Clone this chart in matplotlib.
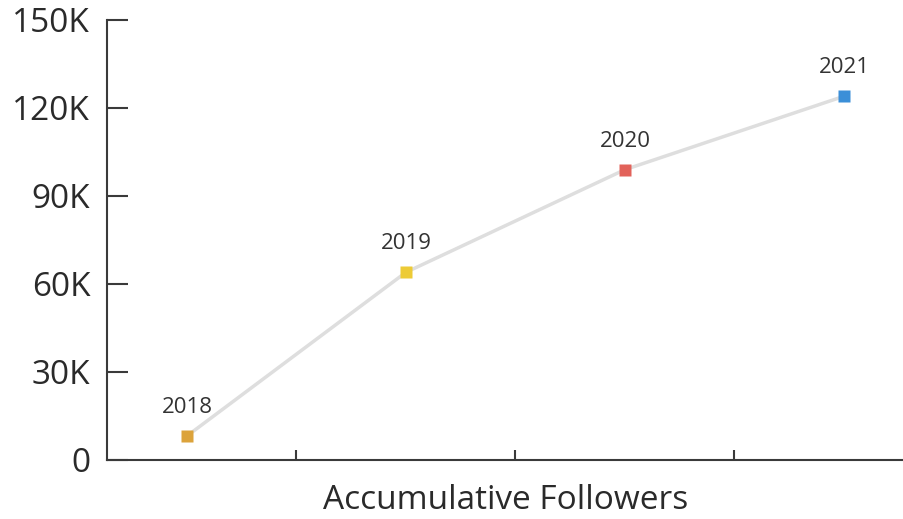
import matplotlib
matplotlib.use("Agg")
import matplotlib.pyplot as plt
from matplotlib.ticker import FuncFormatter

years = ["2018", "2019", "2020", "2021"]
followers = [8200, 64000, 99000, 124000]
colors = ["#DCA33B", "#EDCB36", "#E2625A", "#3B8FD8"]
y_ticks = [0, 30000, 60000, 90000, 120000, 150000]
x_label = "Accumulative Followers"

plt.rcParams["font.family"] = ["Open Sans", "DejaVu Sans"]

fig = plt.figure(figsize=(9.04, 5.19), dpi=100)
ax = fig.add_axes([107 / 904, 59 / 519, 1 - 107 / 904, 440 / 519])

xs = list(range(len(years)))
ax.plot(xs, followers, color="#DEDEDE", lw=2.5, zorder=1)
for x, v, c, yr in zip(xs, followers, colors, years):
    ax.plot([x], [v], marker="s", ms=8.5, color=c, mec="none", zorder=3)
    ax.annotate(yr, (x, v), xytext=(0, 13), textcoords="offset points",
                ha="center", va="bottom", fontsize=16, color="#333333")

ax.set_xlim(-80 / 219, (904 - 187) / 219)
ax.set_ylim(0, 150000)
ax.set_yticks(y_ticks)
ax.yaxis.set_major_formatter(FuncFormatter(lambda v, p: "0" if v == 0 else f"{int(v/1000)}K"))
ax.set_xticks([0.5, 1.5, 2.5])
ax.set_xticklabels([])

for s in ["top", "right"]:
    ax.spines[s].set_visible(False)
for s in ["left", "bottom"]:
    ax.spines[s].set_color("#3a3a3a")
    ax.spines[s].set_linewidth(1.5)

ax.tick_params(axis="y", direction="in", length=15, width=1.5, color="#3a3a3a",
               labelsize=24, labelcolor="#2a2a2a", pad=12)
ax.tick_params(axis="x", direction="in", length=7.5, width=1.5, color="#3a3a3a")
ax.set_xlabel(x_label, fontsize=24, color="#2a2a2a", labelpad=14)

fig.savefig("out.png", dpi=100)
